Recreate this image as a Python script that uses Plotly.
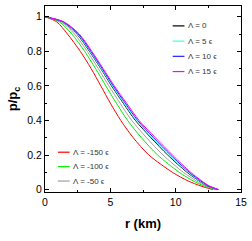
import plotly.graph_objects as go

# pressure levels (shared y values) and radius (km) for each curve
p_levels = [1.0, 0.97, 0.9, 0.8, 0.7, 0.6, 0.5, 0.4, 0.3, 0.2, 0.1, 0.05, 0.02, 0.0]
r_m150 = [0, 0.90, 1.72, 2.70, 3.53, 4.27, 5.00, 5.80, 6.75, 7.95, 9.75, 10.95, 11.95, 12.85]
r_m100 = [0, 1.10, 2.05, 3.03, 3.87, 4.65, 5.46, 6.32, 7.38, 8.62, 10.27, 11.34, 12.19, 13.02]
r_m50 = [0, 1.23, 2.26, 3.23, 4.08, 4.89, 5.74, 6.64, 7.77, 9.03, 10.59, 11.58, 12.34, 13.12]
r_0 = [0, 1.34, 2.44, 3.40, 4.27, 5.09, 5.99, 6.92, 8.11, 9.39, 10.87, 11.79, 12.47, 13.21]
r_5 = [0, 1.36, 2.48, 3.44, 4.30, 5.14, 6.04, 6.98, 8.18, 9.46, 10.93, 11.83, 12.50, 13.23]
r_10 = [0, 1.41, 2.55, 3.51, 4.38, 5.22, 6.14, 7.09, 8.31, 9.61, 11.04, 11.92, 12.55, 13.26]
r_15 = [0, 1.45, 2.62, 3.58, 4.45, 5.30, 6.24, 7.20, 8.45, 9.75, 11.15, 12.00, 12.60, 13.30]

labels = ["Λ = -150 ϵ", "Λ = -100 ϵ", "Λ = -50 ϵ", "Λ = 0", "Λ = 5 ϵ", "Λ = 10 ϵ", "Λ = 15 ϵ"]
series = [r_m150, r_m100, r_m50, r_0, r_5, r_10, r_15]
colors = ["#ff0000", "#00ee00", "#a0a0a0", "#000000", "#40ffe0", "#2020ff", "#ff00ff"]

x_ticks = [0, 5, 10, 15]
y_ticks = [0, 0.2, 0.4, 0.6, 0.8, 1]
y_tick_text = ["0", "0.2", "0.4", "0.6", "0.8", "1"]

fig = go.Figure()
for r, lab, c in zip(series, labels, colors):
    fig.add_trace(go.Scatter(x=r, y=p_levels, mode="lines", name=lab,
                             line=dict(color=c, width=1, shape="spline", smoothing=0.8),
                             showlegend=False))

font = "Liberation Sans, Arial, Helvetica, sans-serif"

# manual legends (short line keys)
def legend_entry(x0, y, idx):
    fig.add_shape(type="line", xref="paper", yref="paper", x0=x0, x1=x0 + 0.06, y0=y, y1=y,
                  line=dict(color=colors[idx], width=1.2))
    fig.add_annotation(xref="paper", yref="paper", x=x0 + 0.068, y=y, text=labels[idx],
                       showarrow=False, xanchor="left", yanchor="middle",
                       font=dict(family=font, size=8, color="#333333"))

H = 187.0
def py(ypix):
    return (192 - ypix) / H

for k, idx in enumerate([3, 4, 5, 6]):
    legend_entry((174 - 45) / 198.0, py(25 + k * 15.3), idx)
for k, idx in enumerate([0, 1, 2]):
    legend_entry((58 - 45) / 198.0, py(152 + k * 14.5), idx)

axis_common = dict(showline=True, linecolor="black", linewidth=1, mirror="ticks",
                   ticks="inside", ticklen=4, tickcolor="black", showgrid=False,
                   zeroline=False, ticklabeloverflow="allow",
                   tickfont=dict(family=font, size=10.5, color="black"))

fig.update_xaxes(range=[0, 15], tickvals=x_ticks,
                 minor=dict(dtick=2.5, ticks="inside", ticklen=2, tickcolor="black"),
                 title=dict(text="<b>r (km)</b>", font=dict(family=font, size=13, color="black"),
                            standoff=12),
                 **axis_common)
fig.update_yaxes(range=[-0.014, 1.062], tickvals=y_ticks, ticktext=y_tick_text,
                 minor=dict(dtick=0.1, ticks="inside", ticklen=2, tickcolor="black"),
                 title=dict(text="<b>p/p<sub>c</sub></b>", font=dict(family=font, size=13, color="black"),
                            standoff=6),
                 **axis_common)

fig.update_layout(width=252, height=241, margin=dict(l=45, r=9, t=5, b=49),
                  plot_bgcolor="white", paper_bgcolor="white", showlegend=False)

fig.write_html("out.html", config={"displayModeBar": False},
               post_script="document.body.style.margin='0px';document.body.style.padding='0px';")
